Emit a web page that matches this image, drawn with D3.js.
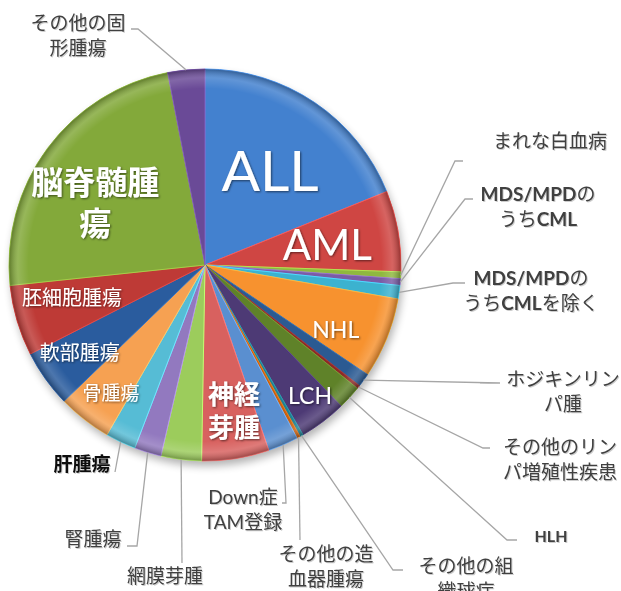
<!DOCTYPE html>
<html>
<head>
<meta charset="utf-8">
<script src="https://cdn.jsdelivr.net/npm/d3@7"></script>
<style>
  body { margin: 0; background: #fff; }
  svg { display: block; }
</style>
</head>
<body>
<div id="chart"></div>
<script>
// categories, in the order the slices run clockwise from 12 o'clock
var categories = ["ALL", "AML", "まれな白血病", "MDS/MPDのうちCML", "MDS/MPDのうちCMLを除く", "NHL",
    "ホジキンリンパ腫", "その他のリンパ増殖性疾患", "HLH", "LCH", "その他の組織球症", "その他の造血器腫瘍",
    "Down症TAM登録", "神経芽腫", "網膜芽腫", "腎腫瘍", "肝腫瘍", "骨腫瘍", "軟部腫瘍", "胚細胞腫瘍",
    "脳脊髄腫瘍", "その他の固形腫瘍"];
// registrations
var counts = [68, 24, 2, 2, 4, 24, 4, 1, 7, 14, 1, 1, 9, 20, 12, 8, 9, 16, 17, 21, 85, 11];

var colors = ["#4381cf", "#cf4643", "#8fb83f", "#7a5ca6", "#3cb2cf", "#f7922f",
    "#2b5a92", "#8c2a27", "#5f8229", "#4d3a75", "#22808f", "#c9610f",
    "#5a8fd0", "#d8615f", "#9ccc5c", "#9279bf", "#56bcd5", "#f6a152",
    "#2a5c9e", "#be3a36", "#83a93a", "#6a4a97"];

// labels drawn inside the slices: [index, lines, angle(deg), radius, size, weight]
var insideLabels = [
    [0, ["ALL"], 34.4, 115, 57, 400],
    [1, ["AML"], 80.7, 124, 42, 400],
    [5, ["NHL"], 116.4, 146, 23, 400],
    [9, ["LCH"], 141.3, 168, 23, 400],
    [13, ["神経", "芽腫"], 168.8, 149, 26, 700],
    [17, ["骨腫瘍"], 216.3, 159, 19, 400],
    [18, ["軟部腫瘍"], 234.9, 153, 20, 400],
    [19, ["胚細胞腫瘍"], 256, 137, 20, 400],
    [20, ["脳脊髄腫", "瘍"], 299.4, 126, 32, 700]
];

// labels outside with leader lines: [index, lines, textX, firstBaseline, leader bend points]
var outsideLabels = [
    [21, ["その他の固", "形腫瘍"], 78, 30, [[138, 29], [131, 29]]],
    [2, ["まれな白血病"], 550, 148, [[455, 161], [463, 161]]],
    [3, ["MDS/MPDの", "うちCML"], 538, 201, [[465, 199], [473, 199]]],
    [4, ["MDS/MPDの", "うちCMLを除く"], 531, 285, [[453, 283], [465, 283]]],
    [6, ["ホジキンリン", "パ腫"], 563, 386, [[500, 383], [480, 383]]],
    [7, ["その他のリン", "パ増殖性疾患"], 560, 454, [[483, 448], [490, 448]]],
    [8, ["HLH"], 551, 542, [[507, 540], [517, 540]]],
    [10, ["その他の組", "織球症"], 466, 573, [[393, 570], [403, 570]]],
    [11, ["その他の造", "血器腫瘍"], 326, 561, [[300, 540]]],
    [12, ["Down症", "TAM登録"], 243, 504, [[286, 503], [282, 503]]],
    [14, ["網膜芽腫"], 165, 583, [[182, 563]]],
    [15, ["腎腫瘍"], 93, 546, [[137, 546], [127, 546]]],
    [16, ["肝腫瘍"], 82, 471, [[115, 472]]]
];

var width = 621, height = 591;
var cx = 205, cy = 265, radius = 196;
var fontJP = "'Noto Sans CJK JP', sans-serif";
var fontLatin = "Lato, 'Noto Sans CJK JP', sans-serif";

var svg = d3.select("#chart")
    .append("svg")
    .attr("width", width)
    .attr("height", height);

var defs = svg.append("defs");

var shadow = defs.append("filter").attr("id", "pieShadow")
    .attr("x", "-20%").attr("y", "-20%").attr("width", "140%").attr("height", "140%");
shadow.append("feGaussianBlur").attr("stdDeviation", 4);

var txtShadow = defs.append("filter").attr("id", "txtShadow");
txtShadow.append("feDropShadow").attr("dx", 1).attr("dy", 1)
    .attr("stdDeviation", 0.8).attr("flood-color", "#000").attr("flood-opacity", 0.55);

var greyShadow = defs.append("filter").attr("id", "greyShadow");
greyShadow.append("feDropShadow").attr("dx", 1).attr("dy", 1)
    .attr("stdDeviation", 0.6).attr("flood-color", "#000").attr("flood-opacity", 0.2);

var rim = defs.append("radialGradient").attr("id", "rim")
    .attr("cx", 0.5).attr("cy", 0.5).attr("r", 0.5);
rim.append("stop").attr("offset", "0").attr("stop-color", "#fff").attr("stop-opacity", 0);
rim.append("stop").attr("offset", "0.9").attr("stop-color", "#fff").attr("stop-opacity", 0);
rim.append("stop").attr("offset", "0.955").attr("stop-color", "#fff").attr("stop-opacity", 0.16);
rim.append("stop").attr("offset", "1").attr("stop-color", "#000").attr("stop-opacity", 0.28);

var g = svg.append("g").attr("transform", "translate(" + cx + "," + cy + ")");

// soft shadow under the pie
g.append("circle")
    .attr("cx", 2).attr("cy", 5)
    .attr("r", radius)
    .attr("fill", "#000")
    .attr("opacity", 0.3)
    .attr("filter", "url(#pieShadow)");

var pie = d3.pie().sort(null).value(function (d) { return d; });
var arcs = pie(counts);

var arc = d3.arc().innerRadius(0).outerRadius(radius);

g.selectAll("path.slice")
    .data(arcs)
    .join("path")
    .attr("class", "slice")
    .attr("d", arc)
    .attr("fill", function (d, i) { return colors[i]; })
    .attr("stroke", function (d, i) { return d3.color(colors[i]).brighter(0.6); })
    .attr("stroke-width", 1)
    .attr("stroke-linejoin", "round");

// bevel look round the rim
g.append("circle")
    .attr("r", radius)
    .attr("fill", "url(#rim)")
    .attr("pointer-events", "none");

function polar(angleDeg, r) {
    var a = angleDeg * Math.PI / 180;
    return [r * Math.sin(a), -r * Math.cos(a)];
}

// inside labels
insideLabels.forEach(function (l) {
    var p = polar(l[2], l[3]);
    var lineH = l[4] * 1.3;
    var t = g.append("text")
        .attr("text-anchor", "middle")
        .attr("fill", "#fff")
        .attr("font-family", /[A-Z]/.test(l[1][0]) ? fontLatin : fontJP)
        .attr("font-size", l[4])
        .attr("font-weight", l[5])
        .attr("filter", "url(#txtShadow)");
    l[1].forEach(function (s, k) {
        t.append("tspan")
            .attr("x", p[0])
            .attr("y", p[1] + (k - (l[1].length - 1) / 2) * lineH)
            .attr("dy", "0.36em")
            .text(s);
    });
});

// outside labels with leader lines
var labelLayer = svg.append("g");
outsideLabels.forEach(function (l) {
    var d = arcs[l[0]];
    var mid = (d.startAngle + d.endAngle) / 2 * 180 / Math.PI;
    var p = polar(mid, radius);
    var pts = [[cx + p[0], cy + p[1]]].concat(l[4]);
    labelLayer.append("path")
        .attr("d", d3.line()(pts))
        .attr("fill", "none")
        .attr("stroke", "#a6a6a6")
        .attr("stroke-width", 1.3);

    var isLiver = l[0] === 16;
    var t = labelLayer.append("text")
        .attr("text-anchor", "middle")
        .attr("fill", isLiver ? "#111" : "#404040")
        .attr("font-family", fontJP)
        .attr("font-size", l[0] === 8 ? 16 : 19)
        .attr("font-weight", isLiver ? 700 : 400)
        .attr("filter", "url(#greyShadow)");
    l[1].forEach(function (s, k) {
        var ts = t.append("tspan")
            .attr("x", l[2])
            .attr("y", l[3] + k * 25);
        // latin runs in bold, like the original labels
        s.split(/([A-Za-z\/]+)/).forEach(function (part) {
            if (!part) return;
            var latin = /[A-Za-z]/.test(part);
            ts.append("tspan")
                .attr("font-family", latin ? fontLatin : fontJP)
                .attr("font-weight", latin && part !== "Down" && part !== "TAM" ? 700 : null)
                .text(part);
        });
    });
});
</script>
</body>
</html>
